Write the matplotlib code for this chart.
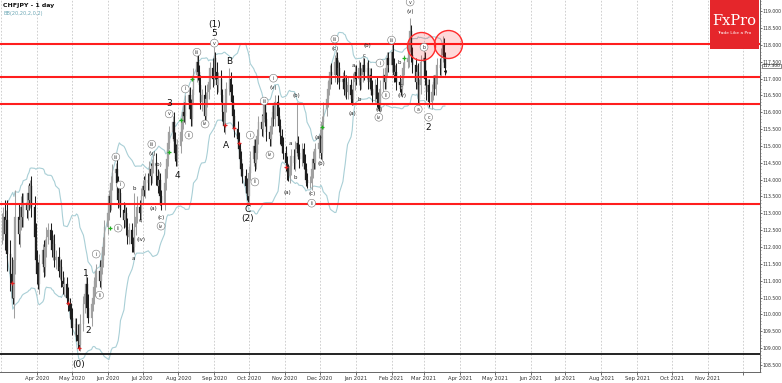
import numpy as np
import pandas as pd
import matplotlib
matplotlib.use("Agg")
import matplotlib.pyplot as plt
import matplotlib.dates as mdates
import matplotlib.transforms as mtrans
from matplotlib.patches import Rectangle
from matplotlib.ticker import MultipleLocator, FormatStrFormatter, FixedLocator

# ---------------- data (CHFJPY daily) ----------------
first_open = 112.4
closes = [
    112.6, 112.9, 112.4, 112.8, 111.8, 111.2, 110.9, 110.5, 111.6, 112.9,
    112.4, 112.8, 113.2, 112.9, 113.3, 113.1, 113.6, 113.4, 113.8, 113.2,
    112.3, 111.6, 111.2, 110.9, 111.5, 111.9, 111.4, 112.0, 112.3, 112.5,
    112.2, 111.9, 112.1, 111.6, 111.7, 111.3, 111.4, 111.0, 110.8, 110.9,
    110.5, 110.3, 110.1, 109.9, 109.6, 109.7, 109.4, 109.2, 109.1, 109.7,
    110.3, 110.6, 110.9, 110.2, 109.9, 110.3, 110.5, 110.8, 111.0, 111.3,
    111.0, 111.4, 111.6, 112.0, 112.6, 113.0, 113.5, 113.3, 113.9, 114.2,
    114.3, 113.9, 113.4, 113.6, 113.1, 112.8, 113.0, 112.6, 112.3, 112.5,
    112.1, 112.0, 112.6, 112.9, 113.2, 113.0, 113.5, 113.8, 113.7, 114.0,
    113.9, 114.3, 114.1, 114.4, 114.5, 114.1, 113.8, 114.0, 113.5, 113.3,
    113.9, 114.3, 114.6, 115.1, 115.4, 115.7, 115.2, 114.8, 114.6, 115.0,
    115.4, 115.7, 116.0, 115.9, 116.3, 116.5, 116.1, 115.8, 116.5, 117.1,
    117.5, 117.2, 116.8, 116.3, 116.5, 115.9, 116.4, 116.6, 116.9, 117.3,
    117.0, 117.6, 117.2, 116.8, 117.0, 116.5, 116.0, 115.6, 116.2, 116.7,
    117.0, 116.6, 116.3, 115.9, 115.5, 115.2, 114.9, 114.6, 114.3, 114.1,
    113.8, 113.6, 113.5, 114.2, 114.6, 115.0, 114.5, 114.8, 115.3, 115.7,
    115.5, 115.9, 116.2, 115.8, 115.4, 115.2, 115.6, 116.0, 115.8, 116.3,
    115.9, 115.6, 115.3, 115.0, 114.8, 114.5, 114.2, 114.1, 114.4, 114.7,
    114.5, 114.9, 115.1, 114.8, 114.6, 114.9, 114.5, 114.3, 114.0, 113.9,
    113.9, 114.3, 114.6, 114.5, 114.9, 115.1, 115.3, 114.8, 115.7, 116.1,
    116.4, 116.7, 116.9, 117.2, 117.1, 117.5, 117.6, 117.1, 117.3, 116.9,
    117.0, 116.7, 116.9, 116.6, 116.8, 116.5, 116.4, 116.9, 117.2, 117.0,
    117.3, 116.9, 117.1, 117.4, 117.2, 117.3, 116.9, 117.1, 116.7, 116.5,
    116.8, 116.4, 116.3, 116.2, 116.7, 117.1, 116.9, 117.3, 117.6, 117.4,
    117.8, 117.4, 117.1, 117.2, 116.9, 116.8, 116.7, 117.0, 117.3, 117.5,
    117.6, 118.0, 118.4, 117.7, 117.4, 116.9, 117.2, 116.4, 116.8, 117.5,
    117.6, 117.0, 116.6, 116.8, 116.3, 116.6, 116.9, 116.7, 117.1, 117.4,
    117.3, 117.7, 118.0, 117.6, 117.30,
]
up_wick = [
    .40, .30, .50, .30, .60, .40, .50, .50, .50, .80,
    .40, .30, .30, .40, .30, .30, .25, .30, .20, .30,
    .30, .40, .30, .35, .30, .20, .30, .25, .30, .20,
    .20, .30, .25, .30, .20, .30, .20, .25, .30, .20,
    .20, .30, .20, .25, .30, .20, .20, .30, .20, .30,
    .25, .30, .30, .20, .40, .20, .25, .30, .20, .20,
    .30, .20, .25, .30, .20, .30, .20, .30, .20, .25,
    .20, .30, .20, .30, .20, .25, .30, .20, .25, .20,
    .20, .20, 1.00, .20, .30, .20, .25, .20, .30, .20,
    .20, .25, .20, .20, .25, .30, .20, .25, .20, .20,
    .25, .20, .20, .25, .20, .20, .30, .20, .25, .20,
    .20, .25, .20, .30, .20, .20, .25, .30, .20, .20,
    .20, .25, .20, .30, .20, .30, .20, .25, .20, .20,
    .30, .35, .20, .30, .20, .25, .20, .20, .25, .20,
    .30, .20, .25, .20, .20, .25, .20, .20, .25, .20,
    .20, .25, .20, .20, .25, .20, .20, .25, .20, .20,
    .25, .20, .20, .25, .20, .20, .25, .20, .20, .20,
    .20, .25, .20, .20, .25, .20, .20, .25, .20, .20,
    .20, .25, 1.20, .20, .25, .20, .20, .25, .20, .20,
    .20, .20, .25, .20, .20, .25, .20, .30, .20, .20,
    .20, .25, .20, .20, .25, .20, .25, .20, .25, .20,
    .20, .25, .20, .20, .25, .20, .20, .25, .20, .20,
    .25, .20, .20, .25, .20, .20, .25, .20, .20, .25,
    .20, .25, .20, .20, .25, .20, .20, .25, .20, .20,
    .20, .25, .20, .20, .25, .20, .20, .25, .20, .20,
    .20, .25, .40, .20, .25, .20, .20, .25, .20, .20,
    .40, .20, .25, .20, .20, .25, .20, .20, .25, .20,
    .20, .20, .25, .20, .20,
]
dn_wick = [
    .30, .40, .50, .40, .50, .50, .40, .20, .60, .40,
    .30, .40, .30, .30, .30, .25, .30, .30, .25, .30,
    .30, .35, .30, .15, .30, .25, .30, .25, .30, .20,
    .25, .20, .30, .20, .25, .20, .25, .20, .20, .25,
    .20, .20, .25, .20, .20, .25, .20, .20, .15, .20,
    .20, .25, .20, .20, .15, .25, .20, .20, .25, .20,
    .20, .25, .20, .20, .25, .20, .20, .25, .20, .20,
    .20, .20, .25, .20, .20, .25, .20, .25, .20, .20,
    .25, .15, .20, .25, .20, .20, .25, .20, .20, .25,
    .20, .20, .25, .20, .20, .25, .20, .20, .25, .20,
    .20, .20, .25, .20, .20, .25, .20, .25, .20, .20,
    .20, .25, .20, .20, .25, .20, .25, .20, .20, .25,
    .20, .25, .20, .20, .25, .20, .20, .25, .20, .20,
    .25, .20, .20, .25, .20, .20, .25, .20, .25, .20,
    .20, .25, .20, .20, .25, .20, .20, .25, .20, .20,
    .20, .20, .15, .25, .20, .20, .25, .20, .20, .25,
    .20, .25, .20, .20, .25, .20, .20, .25, .20, .20,
    .20, .20, .25, .20, .20, .25, .20, .15, .20, .25,
    .20, .25, .20, .20, .25, .20, .20, .25, .20, .15,
    .15, .20, .25, .20, .20, .25, .20, .20, .25, .20,
    .20, .25, .20, .20, .25, .20, .20, .25, .20, .20,
    .20, .20, .25, .20, .20, .25, .20, .20, .25, .20,
    .20, .25, .20, .20, .25, .20, .20, .25, .20, .20,
    .20, .25, .20, .15, .20, .25, .20, .20, .25, .20,
    .20, .25, .20, .20, .25, .20, .20, .25, .20, .20,
    .20, .25, .20, .20, .25, .20, .20, .15, .20, .25,
    .20, .20, .25, .20, .15, .20, .25, .20, .20, .25,
    .20, .25, .20, .20, .20,
]

# horizontal levels
red_levels = [118.02, 117.04, 116.24, 113.27]
black_level = 108.82

# highlighted zones (circles)
circle_dates = ["2021-02-26", "2021-03-22"]
circle_prices = [117.96, 118.02]

# Elliott wave labels: (text, bar index, price)
big_labels = [("(0)", 48, 108.50), ("1", 52, 111.22), ("2", 54, 109.53),
              ("3", 104, 116.25), ("4", 109, 114.13), ("5", 131, 118.35),
              ("(1)", 131, 118.61), ("A", 139, 115.02), ("B", 140, 117.49),
              ("C", 152, 113.12), ("(2)", 152, 112.86), ("2", 264, 115.56)]
small_labels = [("a", 81, 111.67), ("b", 82, 113.75), ("c", 85, 112.80), ("(iv)", 86, 112.23),
                ("(v)", 93, 114.76), ("(b)", 97, 114.46), ("(a)", 94, 113.15), ("(c)", 99, 112.89),
                ("(v)", 168, 116.74), ("(a)", 176, 113.63), ("(b)", 182, 116.51),
                ("a", 179, 115.08), ("b", 181, 114.07), ("(c)", 191, 113.60),
                ("(a)", 195, 115.26), ("(b)", 197, 114.49), ("(c)", 205, 117.90),
                ("(a)", 216, 115.97), ("a", 217, 117.40), ("b", 220, 116.39),
                ("(b)", 225, 117.99), ("c", 224, 117.69), ("(c)", 233, 116.09),
                ("b", 245, 117.49), ("c", 246, 116.80), ("(iv)", 247, 116.51),
                ("(v)", 252, 119.00)]
circled_labels = [("i", 59, 111.79), ("ii", 60, 110.57), ("iii", 70, 114.67),
                  ("i", 74, 113.84), ("ii", 72, 112.56), ("iii", 93, 115.05), ("iv", 99, 112.62),
                  ("v", 104, 115.95), ("i", 114, 116.69), ("ii", 115, 115.32), ("iii", 120, 117.78),
                  ("iv", 125, 115.65), ("v", 131, 118.05), ("i", 154, 115.32), ("ii", 156, 113.93),
                  ("iii", 162, 116.33), ("iv", 165, 114.73), ("i", 168, 117.01), ("ii", 191, 113.30),
                  ("iii", 205, 118.17), ("iv", 233, 115.85), ("i", 234, 117.46), ("ii", 237, 116.51),
                  ("iii", 240, 118.14), ("v", 252, 119.27), ("a", 257, 116.09), ("b", 260, 117.93),
                  ("c", 264, 115.85)]
red_cross = [(6, 110.93), (41, 110.34), (48, 109.00), (138, 115.62), (144, 115.53),
             (146, 115.08), (175, 114.37)]
green_cross = [(67, 112.56), (104, 114.82), (110, 115.77), (118, 116.98), (198, 115.56),
               (249, 117.61)]

month_ticks = pd.date_range("2020-04-01", "2021-12-01", freq="MS")

# ---------------- derived OHLC ----------------
dates = pd.bdate_range("2020-03-02", periods=len(closes))
c = np.array(closes)
o = np.concatenate([[first_open], c[:-1]])
h = np.maximum(o, c) + np.array(up_wick)
l = np.minimum(o, c) - np.array(dn_wick)
xd = mdates.date2num(dates)

# ---------------- figure ----------------
fig = plt.figure(figsize=(7.82, 3.83), dpi=100)
ax = fig.add_axes([0.0, 11 / 383, 760 / 782, 372 / 383])

ax.set_xlim(mdates.date2num(pd.Timestamp("2020-02-29")), mdates.date2num(pd.Timestamp("2021-12-16")))
ax.set_ylim(108.29, 119.33)

# grid at month starts
for d in pd.date_range("2020-03-01", "2021-12-01", freq="MS"):
    ax.axvline(mdates.date2num(d), color="#c8c8c8", lw=0.6, ls=(0, (2, 2)), zorder=0)

# Bollinger bands
s = pd.Series(c)
mid = s.rolling(20, min_periods=5).mean()
sd = s.rolling(20, min_periods=5).std(ddof=0)
ax.plot(xd, mid + 2 * sd, color="#a9cfd6", lw=0.8, zorder=1)
ax.plot(xd, mid - 2 * sd, color="#a9cfd6", lw=0.8, zorder=1)

# candles
upc = c >= o
col = np.where(upc, "#a0a0a0", "#1e1e1e")
ax.vlines(xd, l, h, colors=col, lw=0.75, zorder=2)
ax.bar(xd, np.maximum(np.abs(c - o), 0.04), bottom=np.minimum(o, c), width=1.25,
       color=col, edgecolor=col, linewidth=0.2, zorder=3)

# levels
for lv in red_levels:
    ax.axhline(lv, color="#ff1e1e", lw=1.5, zorder=4)
ax.axhline(black_level, color="#111111", lw=1.3, zorder=4)

# circles
ax.scatter(mdates.date2num(pd.to_datetime(circle_dates)), circle_prices, s=406,
           facecolor=(1, 0, 0, 0.15), edgecolor="#ff2a2a", linewidth=1.0, zorder=5)

# crosses
ax.scatter([xd[i] for i, _ in red_cross], [p for _, p in red_cross], marker="+", s=9,
           color="#e02020", linewidth=0.9, zorder=6)
ax.scatter([xd[i] for i, _ in green_cross], [p for _, p in green_cross], marker="+", s=9,
           color="#20b020", linewidth=0.9, zorder=6)

# wave labels
for t, i, p in big_labels:
    ax.text(xd[i], p, t, fontsize=6.5, ha="center", va="center", color="#111", zorder=7)
for t, i, p in small_labels:
    ax.text(xd[i], p, t, fontsize=4, ha="center", va="center", color="#222", zorder=7)
for t, i, p in circled_labels:
    ax.text(xd[i], p, t, fontsize=3.4, ha="center", va="center", color="#333", zorder=7,
            bbox=dict(boxstyle="circle,pad=0.3", fc="white", ec="#777", lw=0.4))

# arrow after last bar
ax.annotate("", xy=(xd[-1] + 1.5, c[-1] - 0.25), xytext=(xd[-1] + 0.2, c[-1] - 0.02),
            arrowprops=dict(arrowstyle="-|>", color="#111", lw=0.6, mutation_scale=4), zorder=7)

# axes styling
ax.yaxis.tick_right()
ax.yaxis.set_major_locator(FixedLocator(np.arange(108.5, 119.01, 0.5)))
ax.yaxis.set_minor_locator(MultipleLocator(0.1))
ax.yaxis.set_major_formatter(FormatStrFormatter("%.3f"))
ax.tick_params(axis="y", which="major", labelsize=3.3, pad=0.5, length=1.5, width=0.5, colors="#333")
ax.tick_params(axis="y", which="minor", length=0.8, width=0.4, colors="#555")
ax.xaxis.set_major_locator(FixedLocator(mdates.date2num(month_ticks)))
ax.set_xticklabels([d.strftime("%b %Y") if d < pd.Timestamp("2021-12-01") else "" for d in month_ticks])
ax.tick_params(axis="x", labelsize=3.8, pad=1, length=2, width=0.5, colors="#333")
for sp in ["top", "left"]:
    ax.spines[sp].set_visible(False)
for sp in ["right", "bottom"]:
    ax.spines[sp].set_color("#666")
    ax.spines[sp].set_linewidth(0.7)

# current price tag
tr = mtrans.blended_transform_factory(ax.transAxes, ax.transData)
ax.text(1.003, c[-1] + 0.07, f"{c[-1]:.3f}", transform=tr, fontsize=3.2, ha="left", va="center",
        color="#111", bbox=dict(boxstyle="square,pad=0.1", fc="white", ec="#333", lw=0.4), clip_on=False)

# header
fig.text(3 / 782, 1 - 6 / 383, "CHFJPY - 1 day", fontsize=4.5, weight="bold", va="center", color="#111")
fig.text(3 / 782, 1 - 14 / 383, "BB(20,20,2,0,2)", fontsize=3.6, va="center", color="#6aa6b4")

# logo
fig.patches.append(Rectangle((710 / 782, 1 - 49 / 383), 49 / 782, 49 / 383, transform=fig.transFigure,
                             facecolor="#e5262b", edgecolor="none", zorder=10))
fig.text(734.5 / 782, 1 - 21 / 383, "FxPro", fontsize=10.5, family="DejaVu Serif", color="white",
         ha="center", va="center", zorder=11)
fig.text(734.5 / 782, 1 - 33 / 383, "Trade Like a Pro", fontsize=3.2, color="white",
         ha="center", va="center", zorder=11)

fig.savefig("out.png", dpi=100)
